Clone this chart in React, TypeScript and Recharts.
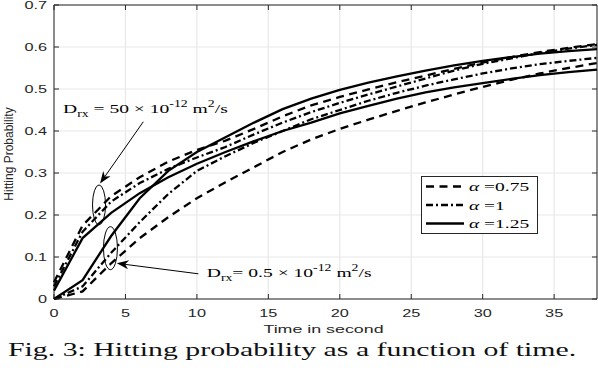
import React from 'react';
import { LineChart, Line, XAxis, YAxis, CartesianGrid, Legend, ReferenceArea } from 'recharts';

// sample times (s)
const TIME = [0, 2, 4, 6, 8, 10, 12, 14, 16, 18, 20, 22, 24, 26, 28, 30, 32, 34, 36, 38];

// D_rx = 50e-12 m^2/s
const FAST_075 = [0.04, 0.175, 0.245, 0.29, 0.327, 0.355, 0.377, 0.405, 0.435, 0.461, 0.481, 0.499, 0.516, 0.532, 0.548, 0.563, 0.576, 0.588, 0.598, 0.607];
const FAST_1 = [0.03, 0.16, 0.232, 0.276, 0.31, 0.337, 0.362, 0.392, 0.42, 0.445, 0.467, 0.487, 0.506, 0.525, 0.544, 0.56, 0.573, 0.586, 0.596, 0.605];
const FAST_125 = [0.02, 0.145, 0.205, 0.252, 0.29, 0.322, 0.35, 0.376, 0.4, 0.42, 0.442, 0.46, 0.477, 0.492, 0.504, 0.514, 0.524, 0.533, 0.54, 0.546];

// D_rx = 0.5e-12 m^2/s
const SLOW_075 = [0, 0.018, 0.085, 0.145, 0.195, 0.24, 0.278, 0.314, 0.35, 0.38, 0.405, 0.427, 0.448, 0.468, 0.487, 0.505, 0.522, 0.537, 0.55, 0.562];
const SLOW_1 = [0, 0.03, 0.11, 0.183, 0.25, 0.305, 0.34, 0.372, 0.4, 0.428, 0.45, 0.472, 0.491, 0.508, 0.523, 0.537, 0.549, 0.559, 0.567, 0.574];
const SLOW_125 = [0, 0.045, 0.15, 0.24, 0.305, 0.35, 0.385, 0.42, 0.452, 0.477, 0.498, 0.515, 0.53, 0.544, 0.556, 0.567, 0.576, 0.584, 0.59, 0.595];

const X_TICKS = [0, 5, 10, 15, 20, 25, 30, 35];
const Y_TICKS = [0, 0.1, 0.2, 0.3, 0.4, 0.5, 0.6, 0.7];

const DASH = '8 5.5';
const DASHDOT = '7 3 2 3';

const SERIES = [
  { key: 'fast075', values: FAST_075, dash: DASH, alpha: '0.75', legend: false },
  { key: 'fast1', values: FAST_1, dash: DASHDOT, alpha: '1', legend: false },
  { key: 'fast125', values: FAST_125, dash: undefined, alpha: '1.25', legend: false },
  { key: 'slow075', values: SLOW_075, dash: DASH, alpha: '0.75', legend: true },
  { key: 'slow1', values: SLOW_1, dash: DASHDOT, alpha: '1', legend: true },
  { key: 'slow125', values: SLOW_125, dash: undefined, alpha: '1.25', legend: true },
];

const data = TIME.map((t, i) => {
  const row: any = { t };
  SERIES.forEach((s) => { row[s.key] = s.values[i]; });
  return row;
});

// geometry
const W = 598;
const CHART_H = 330;
const PLOT_L = 54;
const PLOT_T = 5;
const PLOT_W = 543;
const PLOT_H = 294;
const X_MAX = 38;
const Y_MAX = 0.7;
const SX = 1.55; // the figure is stretched horizontally
const AXIS_COLOR = '#262626';
const TICK_LEN = 5;

const px = (t: number) => PLOT_L + (t / X_MAX) * PLOT_W;
const py = (p: number) => PLOT_T + PLOT_H * (1 - p / Y_MAX);

const XTick = ({ x, y, payload }: any) => (
  <g>
    <line x1={x} x2={x} y1={y} y2={y - TICK_LEN} stroke={AXIS_COLOR} />
    <line x1={x} x2={x} y1={y - PLOT_H} y2={y - PLOT_H + TICK_LEN} stroke={AXIS_COLOR} />
    <text
      transform={`translate(${x},${y + 17.5}) scale(${SX},1)`}
      textAnchor="middle"
      fontFamily="Liberation Sans, Arial, sans-serif"
      fontSize={10.5}
      fill={AXIS_COLOR}
    >
      {payload.value}
    </text>
  </g>
);

const YTick = ({ x, y, payload }: any) => (
  <g>
    <line x1={x} x2={x + TICK_LEN} y1={y} y2={y} stroke={AXIS_COLOR} />
    <line x1={x + PLOT_W - TICK_LEN} x2={x + PLOT_W} y1={y} y2={y} stroke={AXIS_COLOR} />
    <text
      transform={`translate(${x - 7},${y + 3.8}) scale(${SX},1)`}
      textAnchor="end"
      fontFamily="Liberation Sans, Arial, sans-serif"
      fontSize={10.5}
      fill={AXIS_COLOR}
    >
      {payload.value}
    </text>
  </g>
);

const renderLegend = (props: any) => {
  const items = (props.payload || []).filter((it: any) => it.type !== 'none');
  const rows = SERIES.filter((s) => s.legend);
  return (
    <div style={{ width: 117, height: 58, border: `1px solid ${AXIS_COLOR}`, background: '#fff', boxSizing: 'border-box' }}>
      <svg width={115} height={56} style={{ display: 'block' }}>
        {rows.map((s, i) => {
          const it = items.find((p: any) => p.dataKey === s.key);
          const dash = it && it.payload && it.payload.strokeDasharray !== undefined ? it.payload.strokeDasharray : s.dash;
          const cy = 9.5 + i * 18.5;
          return (
            <g key={s.key}>
              <line x1={4} x2={42} y1={cy} y2={cy} stroke="#000" strokeWidth={2.3} strokeDasharray={dash} />
              <text
                transform={`translate(47,${cy + 4.5}) scale(1.5,1)`}
                fontFamily="Liberation Serif, Times New Roman, serif"
                fontSize={13}
                fill="#000"
              >
                <tspan fontStyle="italic">α</tspan> ={s.alpha}
              </text>
            </g>
          );
        })}
      </svg>
    </div>
  );
};

const Arrow = ({ from, to }: { from: [number, number]; to: [number, number] }) => {
  const [x1, y1] = [px(from[0]), py(from[1])];
  const [x2, y2] = [px(to[0]), py(to[1])];
  const dx = x2 - x1;
  const dy = y2 - y1;
  const len = Math.hypot(dx, dy);
  const ux = dx / len;
  const uy = dy / len;
  const L = 12;
  const hw = 4.5;
  const bx = x2 - ux * L;
  const by = y2 - uy * L;
  const nx = -uy;
  const ny = ux;
  const notch = 0.7;
  const pts = `${x2},${y2} ${bx + nx * hw},${by + ny * hw} ${x2 - ux * L * notch},${y2 - uy * L * notch} ${bx - nx * hw},${by - ny * hw}`;
  return (
    <g>
      <line x1={x1} y1={y1} x2={x2 - ux * L * notch} y2={y2 - uy * L * notch} stroke="#000" strokeWidth={1} />
      <polygon points={pts} fill="#000" />
    </g>
  );
};

const DLabel = ({ t, p, value, eqGap }: { t: number; p: number; value: string; eqGap: boolean }) => (
  <text
    transform={`translate(${px(t)},${py(p)}) scale(1.45,1)`}
    fontFamily="Liberation Serif, Times New Roman, serif"
    fontSize={13.5}
    fill="#000"
  >
    D
    <tspan fontSize={9.5} dy={4}>rx</tspan>
    <tspan dy={-4}>{eqGap ? ' = ' : '= '}{value} × 10</tspan>
    <tspan fontSize={9.5} dy={-6}>-12</tspan>
    <tspan dy={6}> m</tspan>
    <tspan fontSize={9.5} dy={-6}>2</tspan>
    <tspan dy={6}>/s</tspan>
  </text>
);

export default function App() {
  return (
    <div style={{ position: 'absolute', left: 0, top: 0, width: W, height: 370, background: '#fff' }}>
      <LineChart width={W} height={CHART_H} data={data} margin={{ top: PLOT_T, right: 1, bottom: 0, left: 0 }}>
        <CartesianGrid stroke="#e8e8e8" strokeWidth={1.2} />
        <XAxis
          dataKey="t"
          type="number"
          domain={[0, X_MAX]}
          ticks={X_TICKS}
          interval={0}
          height={31}
          tickSize={0}
          tickMargin={0}
          axisLine={false}
          tickLine={false}
          tick={<XTick />}
        />
        <YAxis
          type="number"
          domain={[0, Y_MAX]}
          ticks={Y_TICKS}
          interval={0}
          width={PLOT_L}
          tickSize={0}
          tickMargin={0}
          axisLine={false}
          tickLine={false}
          tick={<YTick />}
        />
        <ReferenceArea x1={0} x2={X_MAX} y1={0} y2={Y_MAX} fill="none" fillOpacity={0} stroke={AXIS_COLOR} strokeWidth={1} />
        {SERIES.map((s) => (
          <Line
            key={s.key}
            dataKey={s.key}
            type="linear"
            stroke="#000"
            strokeWidth={2.3}
            strokeDasharray={s.dash}
            dot={false}
            activeDot={false}
            legendType={s.legend ? 'line' : 'none'}
            isAnimationActive={false}
          />
        ))}
        <Legend
          layout="vertical"
          align="center"
          verticalAlign="middle"
          content={renderLegend}
          wrapperStyle={{ left: 421, top: 176, width: 117, height: 58 }}
        />
      </LineChart>
      <svg width={W} height={370} style={{ position: 'absolute', left: 0, top: 0, pointerEvents: 'none' }}>
        <ellipse cx={px(3.15)} cy={py(0.224)} rx={6.5} ry={20} fill="none" stroke="#000" strokeWidth={1} />
        <ellipse cx={px(3.95)} cy={py(0.121)} rx={7} ry={21.5} fill="none" stroke="#000" strokeWidth={1} />
        <Arrow from={[6.25, 0.422]} to={[3.22, 0.275]} />
        <Arrow from={[10.1, 0.06]} to={[4.39, 0.085]} />
        <DLabel t={0.63} p={0.443} value="50" eqGap />
        <DLabel t={10.69} p={0.053} value="0.5" eqGap={false} />
        <text
          transform={`translate(${PLOT_L + PLOT_W / 2 - 2},332.5) scale(${SX},1)`}
          textAnchor="middle"
          fontFamily="Liberation Sans, Arial, sans-serif"
          fontSize={11.5}
          fill={AXIS_COLOR}
        >
          Time in second
        </text>
        <text
          transform={`translate(13,${PLOT_T + PLOT_H / 2 + 2}) rotate(-90)`}
          textAnchor="middle"
          fontFamily="Liberation Sans, Arial, sans-serif"
          fontSize={12}
          fill={AXIS_COLOR}
        >
          Hitting Probability
        </text>
        <text
          transform={`translate(8,356) scale(1.57,1)`}
          fontFamily="Liberation Serif, Times New Roman, serif"
          fontSize={19}
          fill="#111"
        >
          Fig. 3: Hitting probability as a function of time.
        </text>
      </svg>
    </div>
  );
}
